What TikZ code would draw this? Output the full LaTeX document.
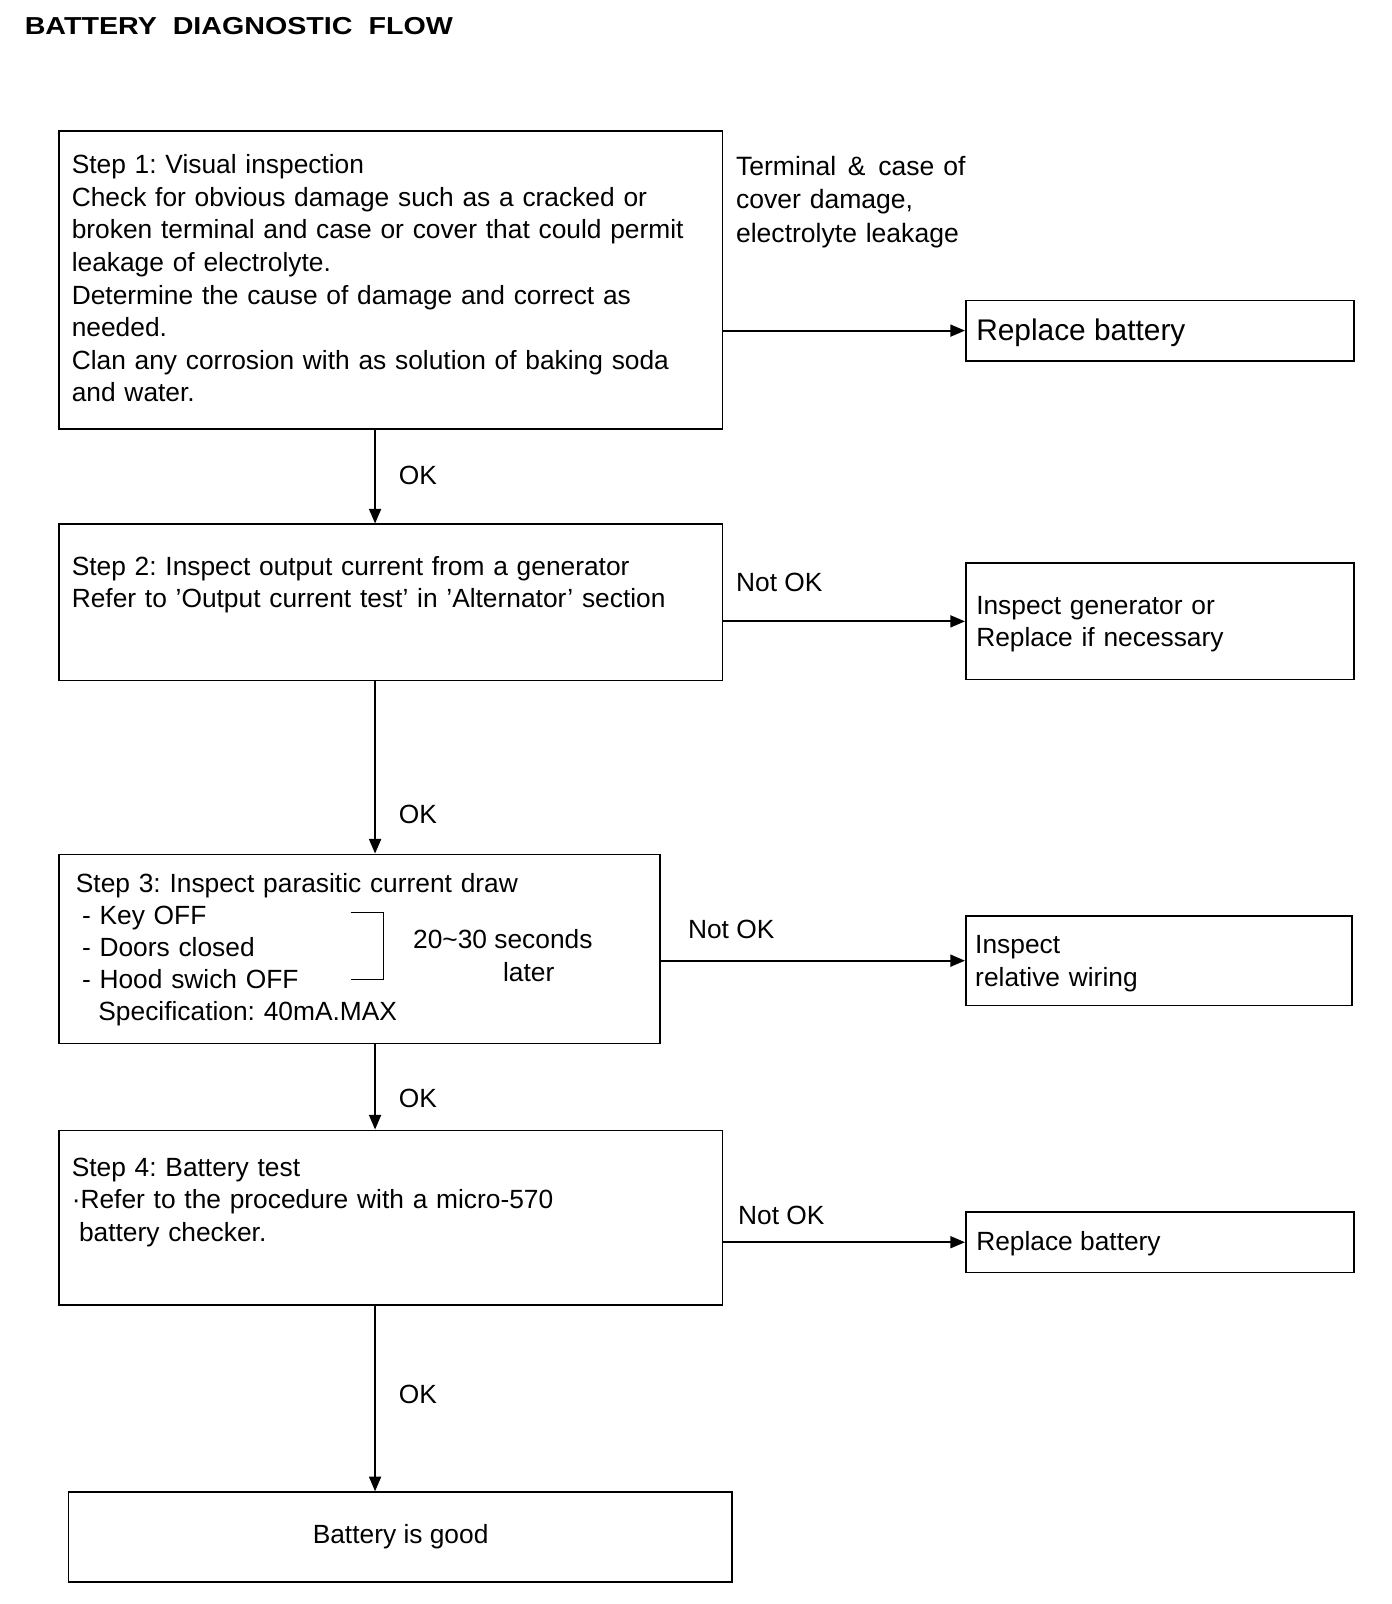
\documentclass[tikz,border=0pt]{standalone}
\usepackage{fontspec}
\setmainfont{Liberation Sans}
\usepackage{graphicx}
\usetikzlibrary{arrows.meta,fit}
\frenchspacing
\begin{document}
\begin{tikzpicture}[x=0.7665pt,y=-0.7665pt,
  box/.style={draw, line width=1.2pt, inner sep=0pt},
  arr/.style={line width=1.4pt, -{Triangle[length=11pt,width=9pt]}},
  txt/.style={anchor=base west, inner sep=0pt, align=left, text width=520pt, font=\fontsize{19.75pt}{24.45pt}\selectfont},
  lbl/.style={anchor=base west, inner sep=0pt, font=\fontsize{19.75pt}{24.45pt}\selectfont}]
\useasboundingbox (0,0) rectangle (1362,1569.5);

% title
\node[anchor=base west, inner sep=0pt] (title) at (24,33.5)
  {\resizebox{321pt}{\height}{\fontsize{18.4pt}{20pt}\selectfont\bfseries BATTERY\ \ DIAGNOSTIC\ \ FLOW}};

% boxes
\coordinate (b1a) at (58,128);   \coordinate (b1b) at (707,420);
\coordinate (r1a) at (945,294);  \coordinate (r1b) at (1325,353);
\coordinate (b2a) at (58,513);   \coordinate (b2b) at (707,666);
\coordinate (ga)  at (945,551);  \coordinate (gb)  at (1325,665);
\coordinate (b3a) at (58,836);   \coordinate (b3b) at (646,1021);
\coordinate (wa)  at (945,896);  \coordinate (wb)  at (1323,984);
\coordinate (b4a) at (58,1106);  \coordinate (b4b) at (707,1277);
\coordinate (r2a) at (945,1186); \coordinate (r2b) at (1325,1245);
\coordinate (b5a) at (67,1460);  \coordinate (b5b) at (716,1548);
\node[box, fit=(b1a)(b1b)] (b1) {};
\node[box, fit=(r1a)(r1b)] (r1) {};
\node[box, fit=(b2a)(b2b)] (b2) {};
\node[box, fit=(ga)(gb)] (g) {};
\node[box, fit=(b3a)(b3b)] (b3) {};
\node[box, fit=(wa)(wb)] (w) {};
\node[box, fit=(b4a)(b4b)] (b4) {};
\node[box, fit=(r2a)(r2b)] (r2) {};
\node[box, fit=(b5a)(b5b)] (b5) {};

% texts
\node[txt] (t1) at (70,170) {Step 1: Visual inspection\\
Check for obvious damage such as a cracked or\\
broken terminal and case or cover that could permit\\
leakage of electrolyte.\\
Determine the cause of damage and correct as\\
needed.\\
Clan any corrosion with as solution of baking soda\\
and water.};
\node[txt, font=\fontsize{19.9pt}{24.9pt}\selectfont] (term) at (720,172) {Terminal\ \kern2pt\&\ \kern3pt case of\\
cover damage,\\
electrolyte leakage};
\node[lbl, font=\fontsize{22.4pt}{26pt}\selectfont] (r1t) at (955,333) {Replace battery};
\node[lbl] (ok1) at (390,474) {OK};

\node[txt] (t2) at (70,563) {Step 2: Inspect output current from a generator\\
Refer to 'Output current test' in 'Alternator' section};
\node[lbl] (no2) at (720,579) {Not OK};
\node[txt] (gt) at (955,601) {Inspect generator or\\
Replace if necessary};
\node[lbl] (ok2) at (390,806) {OK};

\node[txt, font=\fontsize{19.75pt}{24pt}\selectfont] (t3) at (74,873) {Step 3: Inspect parasitic current draw\\
\hspace*{4.6pt}- Key OFF\\
\hspace*{4.6pt}- Doors closed\\
\hspace*{4.6pt}- Hood swich OFF\\
\hspace*{16.9pt}Specification: 40mA.MAX};
\node[lbl] (sec) at (404,928) {20\textasciitilde30 seconds};
\node[lbl] (later) at (492,960) {later};
\draw[line width=0.8pt] (343,893) -- (375,893) -- (375,958) -- (343,958);
\node[lbl] (no3) at (673,918) {Not OK};
\node[txt] (wt) at (954,933) {Inspect\\
relative wiring};
\node[lbl] (ok3) at (390,1084) {OK};

\node[txt] (t4) at (70,1151) {Step 4: Battery test\\
·Refer to the procedure with a micro-570\\
\hspace*{5.4pt}battery checker.};
\node[lbl] (no4) at (722,1198) {Not OK};
\node[lbl] (r2t) at (955,1224) {Replace battery};
\node[lbl] (ok4) at (390,1373) {OK};
\node[lbl, anchor=base] (good) at (392,1510) {Battery is good};

% connectors
\coordinate (vx) at (367,0);
\draw[arr] (vx |- b1.south) -- (vx |- b2.north);
\draw[arr] (vx |- b2.south) -- (vx |- b3.north);
\draw[arr] (vx |- b3.south) -- (vx |- b4.north);
\draw[arr] (vx |- b4.south) -- (vx |- b5.north);
\draw[arr] (b1.east |- r1.west) -- (r1.west);
\draw[arr] (b2.east |- g.west) -- (g.west);
\draw[arr] (b3.east |- w.west) -- (w.west);
\draw[arr] (b4.east |- r2.west) -- (r2.west);
\end{tikzpicture}
\end{document}
